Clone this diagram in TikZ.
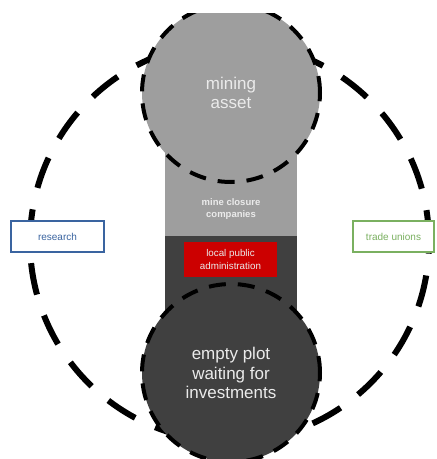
\documentclass[tikz,border=0pt]{standalone}
\usepackage{fontspec}
\setmainfont{Liberation Sans}
\definecolor{lightg}{HTML}{9E9E9E}
\definecolor{darkg}{HTML}{404040}
\definecolor{redbox}{HTML}{CC0000}
\definecolor{circtext}{HTML}{EBEBEB}
\definecolor{bluebox}{HTML}{3A64A0}
\definecolor{greenbox}{HTML}{7AB060}
\tikzset{
  smallring/.style={circle, inner sep=0pt, minimum size=178pt, draw=black, line width=4pt, dash pattern=on 17pt off 12pt, align=center, text=circtext, font=\fontsize{17}{19.5}\selectfont},
  bigring/.style={circle, inner sep=0pt, minimum size=399pt, draw=black, line width=6pt, dash pattern=on 32pt off 22pt},
  barpart/.style={inner sep=0pt, minimum width=132pt, anchor=north west},
  sidebox/.style={draw, line width=1.6pt, fill=white, inner sep=0pt, minimum height=31pt, font=\fontsize{10}{12}\selectfont}
}
\begin{document}
\begin{tikzpicture}[x=1pt,y=-1pt]
\useasboundingbox (0,0) rectangle (437,459);
\begin{scope}
\clip (0,13) rectangle (437,459);
\node[bigring] (ring) at (229.5,242) {};
\node[barpart, fill=lightg, minimum height=137pt] (upper) at (165,100) {};
\node[barpart, fill=darkg, minimum height=135pt] (lower) at (165,236) {};
\node[font=\bfseries\fontsize{9.5}{12}\selectfont, text=circtext, align=center] (closure) at (231,209) {mine closure\\companies};
\node[fill=redbox, inner sep=0pt, minimum width=93pt, minimum height=35pt, align=center, text=circtext, font=\fontsize{9.8}{12.5}\selectfont] (admin) at (230.5,259.5) {local public\\administration};
\node[smallring, fill=lightg] (asset) at (231,93) {mining\\asset};
\node[smallring, fill=darkg] (plot) at (231,373) {empty plot\\waiting for\\investments};
\end{scope}
\node[sidebox, draw=bluebox, text=bluebox, minimum width=93pt] (research) at (57.5,236.5) {research};
\node[sidebox, draw=greenbox, text=greenbox, minimum width=81pt] (unions) at (393.5,236.5) {trade unions};
\end{tikzpicture}
\end{document}
